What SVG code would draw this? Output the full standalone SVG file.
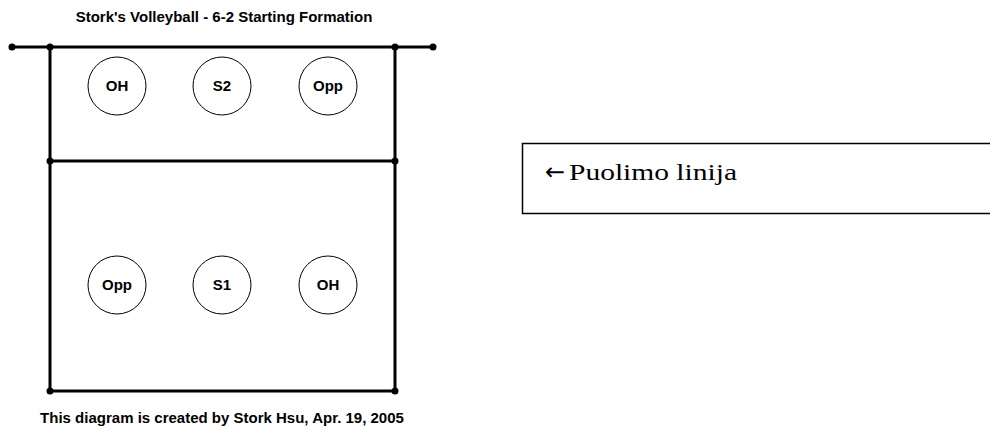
<svg xmlns="http://www.w3.org/2000/svg" width="990" height="428" viewBox="0 0 990 428">
<style>
.ln{stroke:#000;stroke-width:3;fill:none}
.dot{fill:#000}
.pc{fill:#fff;stroke:#000;stroke-width:1}
.pt{font-family:"Liberation Sans",Arial,sans-serif;font-weight:bold;font-size:15px;text-anchor:middle;fill:#000}
.cap{font-family:"Liberation Sans",Arial,sans-serif;font-weight:bold;font-size:15px;text-anchor:middle;fill:#000}
</style>
<rect width="990" height="428" fill="#fff"/>
<text class="cap" x="224" y="22">Stork's Volleyball - 6-2 Starting Formation</text>
<g id="connectors">
<line class="ln" x1="12" y1="47" x2="433" y2="47"/>
<line class="ln" x1="50" y1="47" x2="50" y2="391"/>
<line class="ln" x1="395" y1="47" x2="395" y2="391"/>
<line class="ln" x1="50" y1="161" x2="395" y2="161"/>
<line class="ln" x1="50" y1="391" x2="395" y2="391"/>
<circle class="dot" cx="12" cy="47" r="3.5"/>
<circle class="dot" cx="50" cy="47" r="3.5"/>
<circle class="dot" cx="395" cy="47" r="3.5"/>
<circle class="dot" cx="433" cy="47" r="3.5"/>
<circle class="dot" cx="50" cy="161" r="3.5"/>
<circle class="dot" cx="395" cy="161" r="3.5"/>
<circle class="dot" cx="50" cy="391" r="3.5"/>
<circle class="dot" cx="395" cy="391" r="3.5"/>
</g>
<g id="oh-front"><circle class="pc" cx="117" cy="86" r="29"/><text class="pt" x="117" y="91">OH</text></g>
<g id="s2"><circle class="pc" cx="222" cy="86" r="29"/><text class="pt" x="222" y="91">S2</text></g>
<g id="opp-front"><circle class="pc" cx="328" cy="86" r="29"/><text class="pt" x="328" y="91">Opp</text></g>
<g id="opp-back"><circle class="pc" cx="117" cy="285" r="29"/><text class="pt" x="117" y="290">Opp</text></g>
<g id="s1"><circle class="pc" cx="222" cy="285" r="29"/><text class="pt" x="222" y="290">S1</text></g>
<g id="oh-back"><circle class="pc" cx="328" cy="285" r="29"/><text class="pt" x="328" y="290">OH</text></g>
<text class="cap" x="222" y="423">This diagram is created by Stork Hsu, Apr. 19, 2005</text>
<g id="label-box">
<path d="M992,143.5 H522.5 V213.5 H992" fill="none" stroke="#000" stroke-width="1.5"/>
<text x="545" y="180" font-family="'Liberation Serif','Times New Roman',serif" font-size="23" fill="#000"><tspan font-family="'DejaVu Sans',sans-serif" font-size="24">←</tspan><tspan x="569" textLength="168" lengthAdjust="spacingAndGlyphs">Puolimo linija</tspan></text>
</g>
</svg>
